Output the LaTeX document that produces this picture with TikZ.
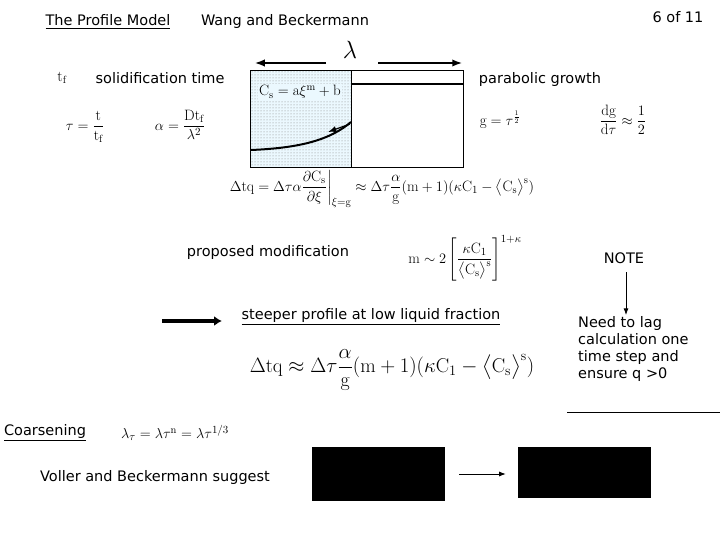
\documentclass[tikz,border=0pt]{standalone}
\usepackage{fontspec}
\usepackage{amsmath}
\setsansfont{DejaVu Sans}
\usetikzlibrary{patterns,arrows.meta}
\begin{document}
\begin{tikzpicture}[x=1pt,y=-1pt,
 lab/.style={font=\sffamily\fontsize{14.5}{17}\selectfont,inner sep=1pt},
 eq/.style={font=\fontsize{15}{17}\selectfont,inner sep=1pt},
 sm/.style={font=\fontsize{15}{17}\selectfont,inner sep=1pt},
 big/.style={font=\fontsize{20}{24}\selectfont,inner sep=1pt},
 blk/.style={fill=black,draw=black}]
\useasboundingbox (0,0) rectangle (720,540);
\node[lab] (t1) at (108,22) {\underline{The Profile Model}};
\node[lab] (t2) at (285,22) {Wang and Beckermann};
\node[lab] (pg) at (678,17) {6 of 11};
\node[eq] (tf) at (62,78) {$\mathrm{t_f}$};
\node[lab] (st) at (160,78) {solidification time};
\node[eq] (tau) at (85,127) {$\tau=\dfrac{\mathrm{t}}{\mathrm{t_f}}$};
\node[eq] (al) at (180,125) {$\alpha=\dfrac{\mathrm{D t_f}}{\lambda^2}$};
\node[lab] (pgw) at (540,80) {parabolic growth};
\node[eq] (g) at (500,120) {$\mathrm{g}=\tau^{\frac12}$};
\node[eq] (dg) at (623,120) {$\dfrac{\mathrm{dg}}{\mathrm{d}\tau}\approx\dfrac12$};
% box
\fill[cyan!8] (250,70) rectangle (351,167);
\fill[pattern=dots,pattern color=gray] (250,70) rectangle (351,167);
\draw[thick] (250,70) rectangle (351,167);
\draw[thick] (351,70) rectangle (463,167);
\draw[line width=2pt] (351,84) -- (463,84);
\node[eq,fill=cyan!8] (cs) at (300,92) {$\mathrm{C_s}=\mathrm{a}\xi^{\mathrm m}+\mathrm b$};
\node[font=\fontsize{26}{28}\selectfont] (lam) at (350,50) {$\lambda$};
\coordinate (la) at (255,63); \coordinate (ra) at (462,63);
\draw[line width=1.5pt,-{Latex}] (326,63) -- (la);
\draw[line width=1.5pt,-{Latex}] (378,63) -- (ra);
\draw[line width=2pt] (251,150) .. controls (300,148) and (330,140) .. (351,122);
\draw[line width=1.2pt,-{Latex}] (350,124) -- (328,132);
\node[sm] (dtq) at (382,189) {$\Delta\mathrm{tq}=\Delta\tau\alpha\dfrac{\partial\mathrm{C_s}}{\partial\xi}\bigg|_{\xi=\mathrm g}\approx\Delta\tau\dfrac{\alpha}{\mathrm g}(\mathrm m+1)(\kappa\mathrm C_1-\big\langle\mathrm C_{\mathrm s}\big\rangle^{\mathrm s})$};
\node[lab] (pm) at (268,252) {proposed modification};
\node[eq] (m) at (465,258) {$\mathrm m\sim2\left[\dfrac{\kappa\mathrm C_1}{\big\langle\mathrm C_{\mathrm s}\big\rangle^{\mathrm s}}\right]^{1+\kappa}$};
\node[lab] (note) at (624,258) {NOTE};
\node[lab,align=left,anchor=north west] (need) at (577,315) {Need to lag\\calculation one\\time step and\\ensure q >0};
\draw[thick,-{Latex}] (626,272) -- (need.north -| 626,0);
\node[lab] (sp) at (371,317) {\underline{steeper profile at low liquid fraction}};
\coordinate (a1) at (162,321);
\draw[line width=4pt,-{Latex[length=8pt,width=10pt]}] (a1) -- ++(60,0);
\node[big] (bq) at (392,370) {$\Delta\mathrm{tq}\approx\Delta\tau\dfrac{\alpha}{\mathrm g}(\mathrm m+1)(\kappa\mathrm C_1-\big\langle\mathrm C_{\mathrm s}\big\rangle^{\mathrm s})$};
\coordinate (h1) at (567,412); \coordinate (h2) at (720,412);
\draw (h1) -- (h2);
\node[lab] (co) at (45,433) {\underline{Coarsening}};
\node[eq] (lt) at (175,433) {$\lambda_\tau=\lambda\tau^{\mathrm n}=\lambda\tau^{1/3}$};
\node[lab] (vb) at (155,477) {Voller and Beckermann suggest};
\node[blk,minimum width=132pt,minimum height=53pt] (b1) at (378,474) {};
\node[blk,minimum width=132pt,minimum height=50pt] (b2) at (584,472) {};
\draw[thick,-{Latex}] ([xshift=15pt]b1.east) -- ([xshift=-12pt]b2.west |- b1.east);
\end{tikzpicture}
\end{document}
